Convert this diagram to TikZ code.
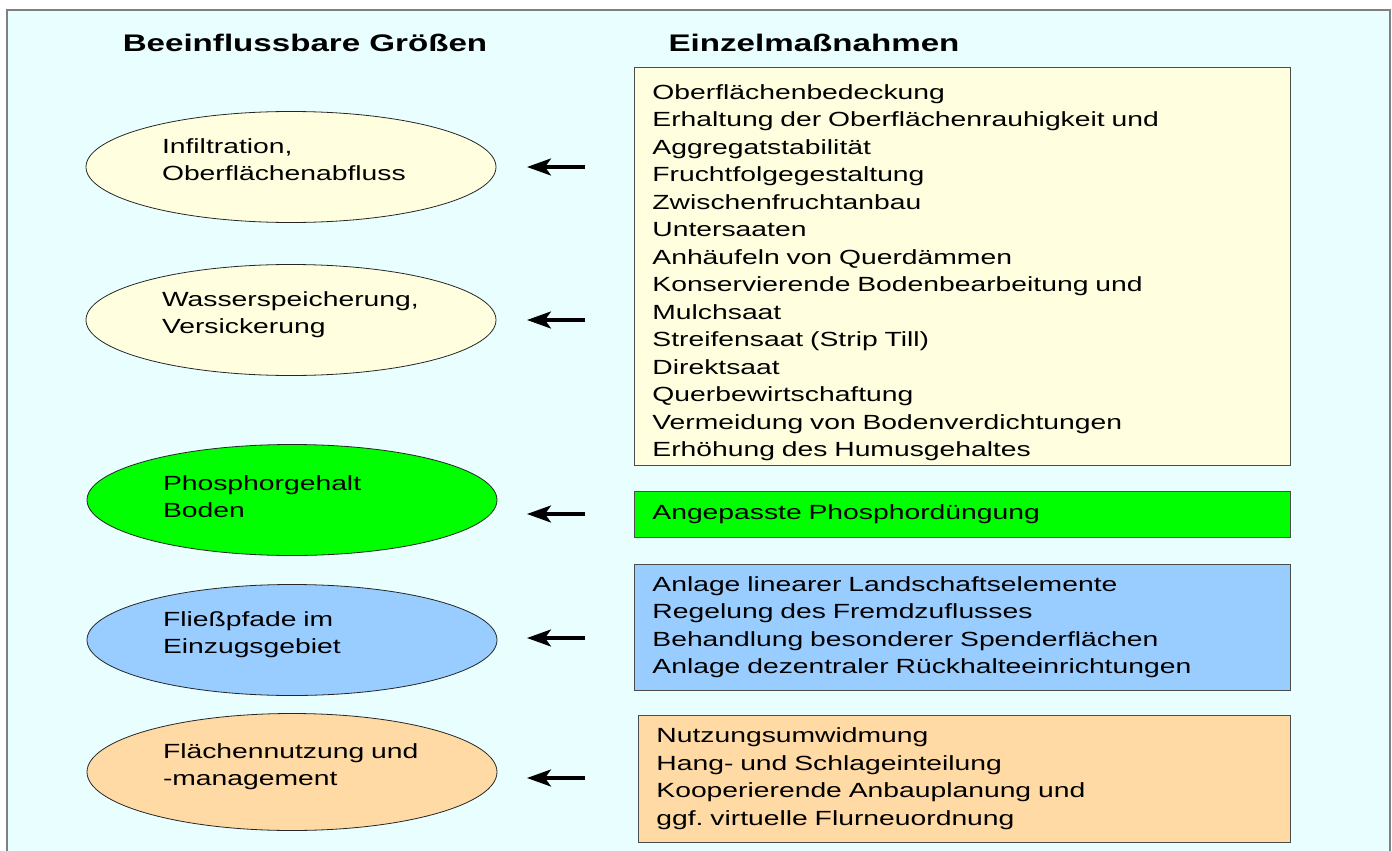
\documentclass[tikz,border=0pt]{standalone}
\usepackage{fontspec}
\setmainfont[FakeStretch=1.38]{Liberation Sans}
\usetikzlibrary{shapes.geometric,arrows.meta}
\frenchspacing

\definecolor{bgcyan}{RGB}{233,255,255}
\definecolor{paleyellow}{RGB}{255,255,224}
\definecolor{puregreen}{RGB}{0,255,0}
\definecolor{skyblue}{RGB}{153,204,255}
\definecolor{peach}{RGB}{255,218,165}
\definecolor{framegray}{RGB}{128,128,128}

\tikzset{
  bodyfont/.style={font=\fontsize{20.5}{27.5}\selectfont},
  headfont/.style={font=\fontsize{24}{28}\selectfont\bfseries},
  factor/.style={ellipse, draw=black!85, line width=0.8pt, bodyfont,
    minimum width=410pt, minimum height=111pt, inner sep=0pt,
    text width=258pt, text depth=42pt, align=left},
  measure/.style={rectangle, draw=black!70, line width=0.8pt, bodyfont,
    minimum width=656pt, inner xsep=18pt, inner ysep=0pt,
    text width=620pt, align=left, anchor=north west},
  pointer/.style={-{Stealth[length=24pt,width=17pt,inset=6pt]}, line width=3.2pt}
}

\begin{document}
\begin{tikzpicture}[x=1pt,y=1pt,yscale=-1,xscale=1]
\useasboundingbox (0,0) rectangle (1392,851);

%Shape: Frame
\draw [framegray, fill=bgcyan, line width=1.5pt] (7,10) rectangle (1390,870);

% Text Node
\node [headfont] (hleft) at (305,43) {Beeinflussbare Größen};
% Text Node
\node [headfont] (hright) at (814,43) {Einzelmaßnahmen};

%Shape: Ellipse
\node [factor, fill=paleyellow] (infil) at (291,167) {Infiltration,\\Oberflächenabfluss};
%Shape: Ellipse
\node [factor, fill=paleyellow] (wasser) at (291,320) {Wasserspeicherung,\\Versickerung};
%Shape: Ellipse
\node [factor, fill=puregreen, text depth=34pt] (phos) at (292,500) {Phosphorgehalt\\Boden};
%Shape: Ellipse
\node [factor, fill=skyblue] (fliess) at (292,640) {Fließpfade im\\Einzugsgebiet};
%Shape: Ellipse
\node [factor, fill=peach, minimum height=117pt] (flaeche) at (292,772) {Flächennutzung und\\-management};

%Shape: Rectangle
\node [measure, fill=paleyellow, minimum height=398pt] (mboden) at (634,67) {%
\rule{0pt}{27pt}Oberflächenbedeckung\\
Erhaltung der Oberflächenrauhigkeit und\\
Aggregatstabilität\\
Fruchtfolgegestaltung\\
Zwischenfruchtanbau\\
Untersaaten\\
Anhäufeln von Querdämmen\\
Konservierende Bodenbearbeitung und\\
Mulchsaat\\
Streifensaat (Strip Till)\\
Direktsaat\\
Querbewirtschaftung\\
Vermeidung von Bodenverdichtungen\\
Erhöhung des Humusgehaltes};
%Shape: Rectangle
\node [measure, fill=puregreen, minimum height=46pt] (mphos) at (634,491) {Angepasste Phosphordüngung};
%Shape: Rectangle
\node [measure, fill=skyblue, minimum height=126pt] (mpfad) at (634,564) {%
Anlage linearer Landschaftselemente\\
Regelung des Fremdzuflusses\\
Behandlung besonderer Spenderflächen\\
Anlage dezentraler Rückhalteeinrichtungen};
%Shape: Rectangle
\node [measure, fill=peach, minimum width=652pt, text width=616pt, minimum height=127pt] (mnutz) at (638,715) {%
Nutzungsumwidmung\\
Hang- und Schlageinteilung\\
Kooperierende Anbauplanung und\\
ggf. virtuelle Flurneuordnung};

% Arrow ends
\coordinate (a1s) at (585,167); \coordinate (a1e) at (527,167);
\coordinate (a2s) at (585,320); \coordinate (a2e) at (527,320);
\coordinate (a3s) at (585,514); \coordinate (a3e) at (527,514);
\coordinate (a4s) at (585,638); \coordinate (a4e) at (527,638);
\coordinate (a5s) at (585,778); \coordinate (a5e) at (527,778);

%Straight Lines
\foreach \k in {1,...,5}
  \draw [pointer] (a\k s) -- (a\k e);

\end{tikzpicture}
\end{document}
